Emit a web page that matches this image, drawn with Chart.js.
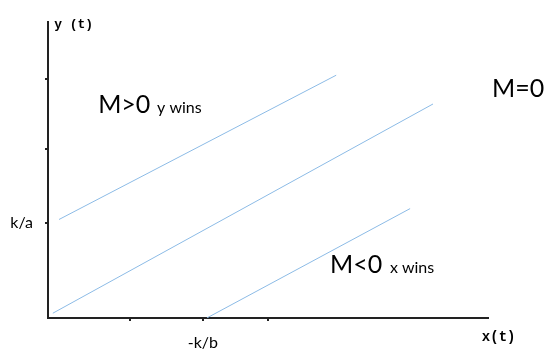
<!DOCTYPE html>
<html>
<head>
<meta charset="utf-8">
<script src="https://cdn.jsdelivr.net/npm/chart.js@4"></script>
<style>
  body { margin: 0; background: #fff; }
</style>
</head>
<body>
<canvas id="phaseChart" width="547" height="351"></canvas>
<script>
// three parallel lines of the phase diagram, in axis units
const upperLine = [{ x: 0.25, y: 2.26 }, { x: 6.55, y: 5.57 }];
const middleLine = [{ x: 0.11, y: 0.11 }, { x: 8.75, y: 4.91 }];
const lowerLine = [{ x: 3.61, y: 0 }, { x: 8.23, y: 2.51 }];

// tick marks on the axes (only one of each gets a label)
const yTickValues = [5.48, 3.88, 2.19];
const yTickLabels = ['', '', 'k/a'];
const xTickValues = [1.86, 3.52, 5.0];
const xTickLabels = ['', '-k/b', ''];

const lineColor = '#8cbbe6';

// region labels and axis names drawn straight onto the canvas
const textPlugin = {
    id: 'regionText',
    afterDraw(chart) {
        const ctx = chart.ctx;
        const x = chart.scales.x;
        const y = chart.scales.y;
        ctx.save();
        ctx.fillStyle = '#000';
        ctx.textBaseline = 'alphabetic';
        ctx.textAlign = 'left';

        ctx.font = '25px Lato';
        ctx.fillText('M>0', x.getPixelForValue(1.14), y.getPixelForValue(4.70));
        ctx.fillText('M<0', x.getPixelForValue(6.41), y.getPixelForValue(1.03));
        ctx.fillText('M=0', x.getPixelForValue(10.09), y.getPixelForValue(5.07));

        ctx.font = '16px Lato';
        ctx.fillText('y wins', x.getPixelForValue(2.48), y.getPixelForValue(4.70));
        ctx.fillText('x wins', x.getPixelForValue(7.77), y.getPixelForValue(1.03));

        ctx.font = 'bold 13px "Liberation Mono"';
        ctx.fillText('y (t)', x.getPixelForValue(0.14), y.getPixelForValue(6.66));
        ctx.font = 'bold 14px "Liberation Mono"';
        ctx.fillText('x(t)', x.getPixelForValue(9.86), y.getPixelForValue(-0.52));
        ctx.restore();
    }
};

const lineStyle = {
    showLine: true,
    borderColor: lineColor,
    borderWidth: 1,
    pointRadius: 0,
    fill: false
};

new Chart(document.getElementById('phaseChart'), {
    type: 'scatter',
    data: {
        datasets: [
            { ...lineStyle, label: 'M>0', data: upperLine },
            { ...lineStyle, label: 'M=0', data: middleLine },
            { ...lineStyle, label: 'M<0', data: lowerLine }
        ]
    },
    options: {
        responsive: false,
        animation: false,
        layout: { padding: { top: 20, right: 59, left: 0, bottom: 0 } },
        plugins: {
            legend: { display: false },
            tooltip: { enabled: false }
        },
        scales: {
            x: {
                type: 'linear',
                min: 0,
                max: 10,
                afterFit(scale) { scale.height = 33; },
                afterBuildTicks(scale) {
                    scale.ticks = xTickValues.map(v => ({ value: v }));
                },
                ticks: {
                    padding: 12,
                    color: '#000',
                    font: { family: 'Lato', size: 16 },
                    callback: (val, i) => xTickLabels[i]
                },
                grid: { drawOnChartArea: false, tickLength: 3, color: '#222', lineWidth: 2 },
                border: { display: true, color: '#222', width: 2 }
            },
            y: {
                type: 'linear',
                min: 0,
                max: 6.8,
                afterFit(scale) { scale.width = 48; },
                afterBuildTicks(scale) {
                    scale.ticks = yTickValues.map(v => ({ value: v }));
                },
                ticks: {
                    padding: 12,
                    color: '#000',
                    font: { family: 'Lato', size: 16 },
                    callback: (val, i) => yTickLabels[i]
                },
                grid: { drawOnChartArea: false, tickLength: 3, color: '#222', lineWidth: 2 },
                border: { display: true, color: '#222', width: 2 }
            }
        }
    },
    plugins: [textPlugin]
});
</script>
</body>
</html>
